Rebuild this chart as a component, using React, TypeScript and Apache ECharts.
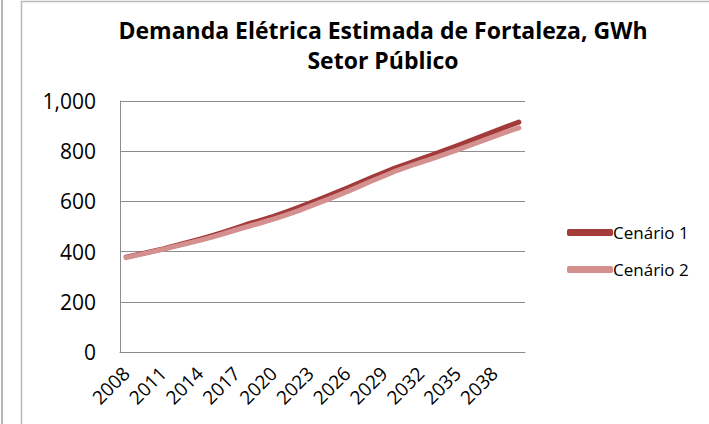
import React, { useEffect, useRef } from "react";
import * as echarts from "echarts";

const years: string[] = [
  "2008", "2009", "2010", "2011", "2012", "2013", "2014", "2015", "2016", "2017", "2018",
  "2019", "2020", "2021", "2022", "2023", "2024", "2025", "2026", "2027", "2028", "2029",
  "2030", "2031", "2032", "2033", "2034", "2035", "2036", "2037", "2038", "2039", "2040",
];

const cenario1: number[] = [
  378, 389, 400, 411, 424, 437, 450, 464, 479, 495, 511,
  525, 540, 557, 575, 594, 613, 633, 653, 674, 695, 715,
  735, 752, 769, 786, 804, 822, 841, 860, 879, 898, 916,
];

const cenario2: number[] = [
  376, 387, 398, 409, 421, 433, 445, 458, 472, 487, 501,
  515, 529, 545, 562, 581, 600, 619, 639, 660, 681, 701,
  722, 739, 755, 771, 788, 805, 823, 841, 859, 877, 893,
];

const seriesNames: string[] = ["Cenário 1", "Cenário 2"];
const titleLines: string[] = ["Demanda Elétrica Estimada de Fortaleza, GWh", "Setor Público"];

const FONT = "'Open Sans', 'Liberation Sans', sans-serif";

export default function App() {
  const ref = useRef<HTMLDivElement>(null);
  useEffect(() => {
    if (!ref.current) return;
    const chart = echarts.init(ref.current, null, { renderer: "svg" });
    chart.setOption({
      animation: false,
      backgroundColor: "#ffffff",
      textStyle: { fontFamily: FONT },
      graphic: [
        { type: "line", shape: { x1: 2, y1: 0, x2: 2, y2: 424 }, style: { stroke: "#b4b4b4", lineWidth: 2 } },
        { type: "rect", shape: { x: 21.5, y: 1.5, width: 720, height: 440 }, style: { fill: "none", stroke: "#b8b8b8", lineWidth: 1.5 } },
        { type: "text", x: 383, y: 30, style: { text: titleLines[0], font: `bold 23px ${FONT}`, fill: "#000", textAlign: "center", textVerticalAlign: "middle" } },
        { type: "text", x: 383, y: 60, style: { text: titleLines[1], font: `bold 23px ${FONT}`, fill: "#000", textAlign: "center", textVerticalAlign: "middle" } },
      ],
      legend: {
        orient: "vertical",
        left: 562,
        top: 219,
        itemWidth: 46,
        itemHeight: 7,
        itemGap: 20,
        icon: "roundRect",
        textStyle: { fontSize: 17, color: "#000", fontFamily: FONT, padding: [0, 0, 0, -5] },
        data: seriesNames,
      },
      grid: { left: 120, right: 184, top: 101, bottom: 72, containLabel: false },
      xAxis: {
        type: "category",
        data: years,
        boundaryGap: true,
        axisLine: { lineStyle: { color: "#8c8c8c", width: 1 } },
        axisTick: { show: false },
        axisLabel: { interval: 2, rotate: 45, fontSize: 19, color: "#000", margin: 18, fontFamily: FONT },
      },
      yAxis: {
        type: "value",
        min: 0,
        max: 1000,
        interval: 200,
        axisLine: { show: true, lineStyle: { color: "#8c8c8c", width: 1 } },
        axisTick: { show: false },
        splitLine: { lineStyle: { color: "#8c8c8c", width: 1 } },
        axisLabel: {
          fontSize: 21,
          color: "#000",
          margin: 24,
          fontFamily: FONT,
          formatter: (v: number) => v.toLocaleString("en-US"),
        },
      },
      series: [
        {
          name: seriesNames[0],
          type: "line",
          data: cenario1,
          symbol: "none",
          color: "#a33b3b",
          lineStyle: { width: 5, color: "#a33b3b", cap: "round", join: "round" },
        },
        {
          name: seriesNames[1],
          type: "line",
          data: cenario2,
          symbol: "none",
          color: "#d48f8f",
          lineStyle: { width: 5, color: "#d48f8f", cap: "round", join: "round" },
        },
      ],
    });
    return () => chart.dispose();
  }, []);
  return <div ref={ref} style={{ position: "fixed", left: 0, top: 0, width: 709, height: 424 }} />;
}
